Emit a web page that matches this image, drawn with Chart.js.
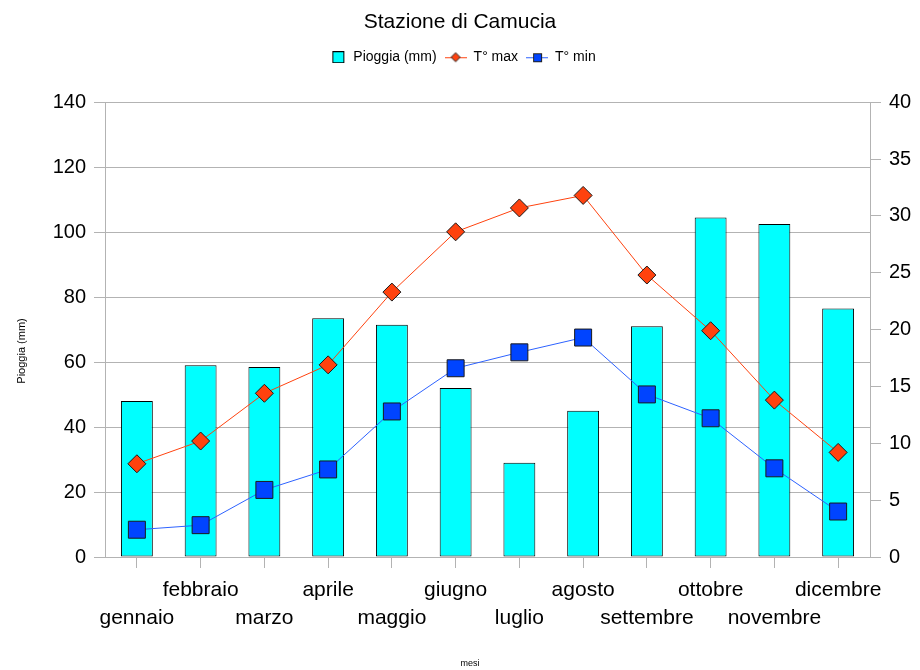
<!DOCTYPE html>
<html>
<head>
<meta charset="utf-8">
<script src="https://cdn.jsdelivr.net/npm/chart.js@4/dist/chart.umd.min.js"></script>
<style>
  body { margin: 0; background: #fff; }
</style>
</head>
<body>
<canvas id="chart" width="920" height="670"></canvas>
<script>
const mesi = ['gennaio', 'febbraio', 'marzo', 'aprile', 'maggio', 'giugno',
  'luglio', 'agosto', 'settembre', 'ottobre', 'novembre', 'dicembre'];
const pioggia = [48, 59, 58.5, 73.5, 71.5, 52, 29, 45, 71, 104.5, 102.5, 76.5];
const tMax = [8.2, 10.2, 14.4, 16.9, 23.3, 28.6, 30.7, 31.8, 24.8, 19.9, 13.8, 9.2];
const tMin = [2.4, 2.8, 5.9, 7.7, 12.8, 16.6, 18.0, 19.3, 14.3, 12.2, 7.8, 4.0];

// labels alternate between two rows like the original
const labels = mesi.map((m, i) => i % 2 === 0 ? ['', m] : [m]);

Chart.defaults.font.family = '"Liberation Sans", Arial, sans-serif';
Chart.defaults.color = '#000';

const GRID = '#b3b3b3';

// small legend icons (line through marker)
function legendIcon(kind) {
  const c = document.createElement('canvas');
  c.width = 22; c.height = 12;
  const g = c.getContext('2d');
  if (kind === 'bar') {
    g.fillStyle = '#00ffff';
    g.fillRect(8.5, 0.5, 11, 11);
    g.strokeStyle = '#000';
    g.strokeRect(8.5, 0.5, 11, 11);
    return c;
  }
  g.strokeStyle = kind === 'max' ? '#ff420e' : '#2d62ff';
  g.beginPath(); g.moveTo(0, 6.5); g.lineTo(22, 6.5); g.stroke();
  g.strokeStyle = '#222';
  if (kind === 'max') {
    g.fillStyle = '#ff420e';
    g.beginPath();
    g.moveTo(11, 1.5); g.lineTo(15.5, 6); g.lineTo(11, 10.5); g.lineTo(6.5, 6); g.closePath();
    g.fill(); g.stroke();
  } else {
    g.fillStyle = '#0044ff';
    g.fillRect(7.5, 2.5, 8, 8);
    g.strokeRect(7.5, 2.5, 8, 8);
  }
  return c;
}
const icons = [legendIcon('bar'), legendIcon('max'), legendIcon('min')];

new Chart(document.getElementById('chart'), {
  data: {
    labels: labels,
    datasets: [
      {
        type: 'bar',
        label: 'Pioggia (mm)',
        data: pioggia,
        yAxisID: 'y',
        backgroundColor: '#00ffff',
        borderColor: '#000',
        borderWidth: 1,
        borderSkipped: false,
        barPercentage: 0.5,
        categoryPercentage: 1,
        order: 3
      },
      {
        type: 'line',
        label: 'T° max',
        data: tMax,
        yAxisID: 'y1',
        borderColor: '#ff420e',
        borderWidth: 1,
        pointStyle: 'rectRot',
        pointRadius: 9,
        pointBackgroundColor: '#ff420e',
        pointBorderColor: '#1a1a1a',
        pointBorderWidth: 1,
        tension: 0,
        order: 1
      },
      {
        type: 'line',
        label: 'T° min',
        data: tMin,
        yAxisID: 'y1',
        borderColor: '#2d62ff',
        borderWidth: 1,
        pointStyle: 'rect',
        pointRadius: 12,
        pointBackgroundColor: '#0044ff',
        pointBorderColor: '#1a1a1a',
        pointBorderWidth: 1,
        tension: 0,
        order: 2
      }
    ]
  },
  options: {
    responsive: false,
    animation: false,
    layout: { padding: 0 },
    plugins: {
      title: {
        display: true,
        text: 'Stazione di Camucia',
        font: { size: 21, weight: 'normal' },
        color: '#000',
        padding: { top: 10, bottom: 7 }
      },
      legend: {
        display: true,
        labels: {
          font: { size: 14 },
          color: '#000',
          usePointStyle: true,
          pointStyleWidth: 22,
          padding: 8,
          sort: (a, b) => a.datasetIndex - b.datasetIndex,
          generateLabels: chart => {
            const items = Chart.defaults.plugins.legend.labels.generateLabels(chart);
            items.forEach(it => { it.pointStyle = icons[it.datasetIndex]; });
            return items;
          }
        }
      },
      // empty spacer between legend and plot
      subtitle: {
        display: true,
        text: '',
        weight: 500,
        font: { size: 10, lineHeight: 1 },
        padding: { top: 0, bottom: 18 }
      },
      tooltip: { enabled: false }
    },
    scales: {
      x: {
        offset: true,
        afterFit: s => { s.height = 113; },
        grid: {
          drawOnChartArea: false,
          drawTicks: true,
          tickLength: 11,
          offset: false,
          color: GRID
        },
        border: { color: GRID },
        ticks: {
          font: { size: 21, lineHeight: 1.333 },
          color: '#000',
          autoSkip: false,
          maxRotation: 0,
          minRotation: 0,
          padding: 8
        },
        title: {
          display: true,
          text: 'mesi' + '\u00a0'.repeat(14),
          font: { size: 9 },
          color: '#000',
          padding: { top: 0, bottom: 1 }
        }
      },
      y: {
        position: 'left',
        min: 0,
        max: 140,
        afterFit: s => { s.width = 105; },
        ticks: { stepSize: 20, font: { size: 20 }, color: '#000', padding: 8 },
        grid: { color: GRID, tickLength: 11 },
        border: { color: GRID },
        title: {
          display: true,
          text: 'Pioggia (mm)' + '\u00a0'.repeat(14),
          font: { size: 11 },
          color: '#000',
          padding: { top: 15, bottom: 0 }
        }
      },
      y1: {
        position: 'right',
        min: 0,
        max: 40,
        afterFit: s => { s.width = 50; },
        ticks: { stepSize: 5, font: { size: 20 }, color: '#000', padding: 8 },
        grid: { drawOnChartArea: false, color: GRID, tickLength: 11 },
        border: { color: GRID }
      }
    }
  }
});
</script>
</body>
</html>
